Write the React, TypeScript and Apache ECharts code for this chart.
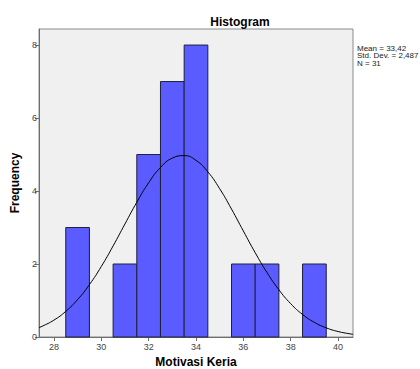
import React, { useEffect, useRef } from "react";
import * as echarts from "echarts";

const binStarts = [28.5, 30.5, 31.5, 32.5, 33.5, 35.5, 36.5, 38.5];
const binEnds = [29.5, 31.5, 32.5, 33.5, 34.5, 36.5, 37.5, 39.5];
const frequencies = [3, 2, 5, 7, 8, 2, 2, 2];

const curveX = [27.37, 27.5, 28, 28.5, 29, 29.5, 30, 30.5, 31, 31.5, 32, 32.5, 33, 33.5, 34, 34.5, 35, 35.5, 36, 36.5, 37, 37.5, 38, 38.5, 39, 39.5, 40, 40.5, 40.63];
const curveY = [0.258, 0.293, 0.462, 0.703, 1.025, 1.436, 1.932, 2.496, 3.098, 3.692, 4.225, 4.644, 4.902, 4.97, 4.84, 4.525, 4.064, 3.505, 2.904, 2.31, 1.765, 1.295, 0.913, 0.618, 0.401, 0.251, 0.15, 0.0865, 0.0744];

const xTicks = [28, 30, 32, 34, 36, 38, 40];
const yTicks = [0, 2, 4, 6, 8];
const statsLines = ["Mean = 33,42", "Std. Dev. = 2,487", "N = 31"];

export default function App() {
  const ref = useRef<HTMLDivElement>(null);
  useEffect(() => {
    document.body.style.margin = "0";
    const chart = echarts.init(ref.current!, null, { renderer: "svg" });
    const font = "Liberation Sans, Arial, sans-serif";
    chart.setOption({
      animation: false,
      backgroundColor: "#ffffff",
      title: {
        text: "Histogram",
        left: 235,
        top: 11,
        textAlign: "center",
        textStyle: { fontSize: 12, fontWeight: "bold", color: "#000", fontFamily: font },
      },
      grid: {
        left: 39,
        right: 67,
        top: 29,
        bottom: 32,
        show: true,
        containLabel: false,
        outerBoundsMode: "none",
        backgroundColor: "#f0f0f0",
        borderColor: "#8a8a8a",
        borderWidth: 1,
      },
      xAxis: {
        type: "value",
        min: 27.37,
        max: 40.63,
        name: "Motivasi Keria",
        nameLocation: "middle",
        nameGap: 19,
        nameTextStyle: { fontSize: 12, fontWeight: "bold", color: "#000", fontFamily: font },
        axisLine: { show: true, lineStyle: { color: "#6e6e6e", width: 1 } },
        axisTick: { show: true, length: 4, customValues: xTicks, lineStyle: { color: "#6e6e6e" } },
        axisLabel: { customValues: xTicks, fontSize: 9, color: "#444", margin: 5, fontFamily: font },
        splitLine: { show: false },
      },
      yAxis: {
        type: "value",
        min: 0,
        max: 8.44,
        name: "Frequency",
        nameLocation: "middle",
        nameGap: 18,
        nameRotate: 90,
        nameTextStyle: { fontSize: 12, fontWeight: "bold", color: "#000", fontFamily: font },
        axisLine: { show: true, lineStyle: { color: "#6e6e6e", width: 1 } },
        axisTick: { show: true, length: 4, customValues: yTicks, lineStyle: { color: "#6e6e6e" } },
        axisLabel: { customValues: yTicks, fontSize: 9, color: "#444", margin: 2, fontFamily: font },
        splitLine: { show: false },
      },
      graphic: statsLines.map((t, i) => ({
        type: "text",
        left: 357,
        top: 44 + i * 7.5,
        style: { text: t, fontSize: 8, fill: "#222", fontFamily: font },
      })),
      series: [
        {
          type: "custom",
          data: binStarts.map((s, i) => [s, binEnds[i], frequencies[i]]),
          encode: { x: [0, 1], y: 2 },
          renderItem: (params: any, api: any) => {
            const p0 = api.coord([api.value(0), api.value(2)]);
            const p1 = api.coord([api.value(1), 0]);
            return {
              type: "rect",
              shape: { x: p0[0], y: p0[1], width: p1[0] - p0[0], height: p1[1] - p0[1] },
              style: { fill: "#5a5cff", stroke: "#1e1e3c", lineWidth: 1 },
            };
          },
          z: 2,
        },
        {
          type: "line",
          data: curveX.map((x, i) => [x, curveY[i]]),
          smooth: true,
          showSymbol: false,
          lineStyle: { color: "#000", width: 1 },
          z: 3,
        },
      ],
    });
    return () => chart.dispose();
  }, []);
  return <div ref={ref} style={{ width: 420, height: 369 }} />;
}
